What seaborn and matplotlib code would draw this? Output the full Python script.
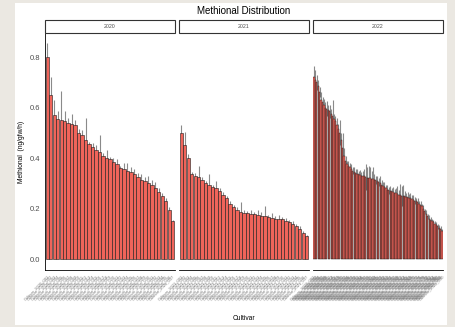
import numpy as np
import pandas as pd
import matplotlib
matplotlib.use("Agg")
import matplotlib.pyplot as plt
from matplotlib.patches import Rectangle
import seaborn as sns

# mean methional per cultivar, sorted high -> low, one list per year
years = ["2020", "2021", "2022"]

vals_2020 = [0.80, 0.65, 0.57, 0.555, 0.55, 0.545, 0.54, 0.535, 0.53, 0.50,
             0.49, 0.47, 0.455, 0.445, 0.43, 0.425, 0.41, 0.40, 0.395, 0.385,
             0.375, 0.36, 0.355, 0.35, 0.345, 0.335, 0.325, 0.315, 0.31, 0.30,
             0.295, 0.28, 0.265, 0.25, 0.23, 0.195, 0.15]
err_2020 = [0.055, 0.07, 0.06, 0.03, 0.115, 0.04, 0.02, 0.04, 0.02, 0.015,
            0.02, 0.09, 0.01, 0.015, 0.02, 0.065, 0.01, 0.03, 0.01, 0.015,
            0.02, 0.01, 0.025, 0.03, 0.02, 0.02, 0.015, 0.02, 0.015, 0.03,
            0.02, 0.025, 0.015, 0.01, 0.01, 0.01, 0.005]

vals_2021 = [0.50, 0.45, 0.40, 0.335, 0.33, 0.325, 0.315, 0.30, 0.295, 0.285,
             0.28, 0.27, 0.255, 0.24, 0.22, 0.205, 0.195, 0.185, 0.183, 0.182,
             0.18, 0.178, 0.175, 0.172, 0.17, 0.165, 0.162, 0.16, 0.158, 0.157,
             0.152, 0.145, 0.14, 0.13, 0.12, 0.105, 0.092]
err_2021 = [0.03, 0.055, 0.015, 0.01, 0.01, 0.045, 0.01, 0.01, 0.04, 0.01,
            0.03, 0.01, 0.01, 0.01, 0.01, 0.01, 0.01, 0.04, 0.01, 0.01,
            0.015, 0.01, 0.02, 0.015, 0.04, 0.01, 0.02, 0.01, 0.015, 0.01,
            0.01, 0.01, 0.01, 0.01, 0.01, 0.005, 0.005]

vals_2022 = [0.72, 0.71, 0.70, 0.685, 0.66, 0.63, 0.62, 0.61, 0.60, 0.595,
             0.59, 0.585, 0.575, 0.565, 0.555, 0.545, 0.53, 0.515, 0.50, 0.47,
             0.44, 0.41, 0.39, 0.375, 0.37, 0.365, 0.355, 0.35, 0.345, 0.34,
             0.338, 0.335, 0.333, 0.33, 0.33, 0.328, 0.325, 0.323, 0.32, 0.32,
             0.318, 0.316, 0.315, 0.313, 0.31, 0.305, 0.30, 0.295, 0.29, 0.285,
             0.28, 0.275, 0.272, 0.27, 0.268, 0.265, 0.262, 0.26, 0.258, 0.255,
             0.253, 0.25, 0.25, 0.248, 0.247, 0.245, 0.243, 0.24, 0.238, 0.235,
             0.232, 0.23, 0.225, 0.22, 0.215, 0.21, 0.20, 0.19, 0.18, 0.17,
             0.16, 0.155, 0.15, 0.145, 0.14, 0.135, 0.13, 0.125, 0.12, 0.11]
err_2022 = [0.045, 0.04, 0.03, 0.025, 0.02, 0.03, 0.02, 0.025, 0.02, 0.03,
            0.02, 0.025, 0.02, 0.065, 0.02, 0.02, 0.03, 0.02, 0.05, 0.03,
            0.06, 0.03, 0.02, 0.015, 0.02, 0.015, 0.02, 0.015, 0.02, 0.015,
            0.02, 0.015, 0.02, 0.015, 0.02, 0.03, 0.05, 0.04, 0.05, 0.045,
            0.03, 0.05, 0.02, 0.015, 0.02, 0.015, 0.03, 0.02, 0.015, 0.02,
            0.015, 0.02, 0.015, 0.02, 0.015, 0.02, 0.015, 0.02, 0.03, 0.02,
            0.045, 0.04, 0.045, 0.02, 0.015, 0.02, 0.015, 0.02, 0.015, 0.02,
            0.015, 0.01, 0.015, 0.01, 0.015, 0.01, 0.015, 0.01, 0.015, 0.01,
            0.015, 0.01, 0.01, 0.01, 0.01, 0.01, 0.01, 0.01, 0.01, 0.01]

# cultivar names are unreadable in the source, placeholders
cultivars_2020 = ["Cultivar_2020_%03d" % (k + 1) for k in range(len(vals_2020))]
cultivars_2021 = ["Cultivar_2021_%03d" % (k + 1) for k in range(len(vals_2021))]
cultivars_2022 = ["Cultivar_2022_%03d" % (k + 1) for k in range(len(vals_2022))]

fill = "#F0645A"
W, H = 456, 327

sns.set_style("white")
plt.rcParams["font.family"] = ["Liberation Sans", "DejaVu Sans"]

fig = plt.figure(figsize=(W / 100, H / 100), dpi=100, facecolor="#ebe8e2")
fig.patches.append(Rectangle((15 / W, 1 - 325 / H), 432 / W, 322 / H,
                             transform=fig.transFigure, facecolor="white",
                             edgecolor="none", zorder=-10))

panels = [(years[0], cultivars_2020, vals_2020, err_2020, 45, 0.4),
          (years[1], cultivars_2021, vals_2021, err_2021, 179, 0.4),
          (years[2], cultivars_2022, vals_2022, err_2022, 313, 0.3)]

ax_bottom, ax_top = 270, 33
for i, (yr, cv, v, e, x0, lw) in enumerate(panels):
    ax = fig.add_axes([x0 / W, 1 - ax_bottom / H, 130 / W, (ax_bottom - ax_top) / H])
    ax.set_facecolor("none")
    df = pd.DataFrame({"Cultivar": cv, "Methional": v})
    n = len(v)
    ax.errorbar(np.arange(n), v, yerr=e, fmt="none", ecolor="#8a8a8a",
                elinewidth=0.8, capsize=0, zorder=1)
    sns.barplot(data=df, x="Cultivar", y="Methional", color=fill, saturation=1,
                edgecolor="#1a1a1a", linewidth=lw, width=0.9, errorbar=None,
                ax=ax, zorder=2)
    ax.set_xlim(-0.6, n - 0.4)
    ax.set_ylim(-0.043, 0.895)
    ax.set_xlabel("")
    ax.set_ylabel("")
    for s in ["top", "right"]:
        ax.spines[s].set_visible(False)
    ax.spines["bottom"].set_color("black")
    ax.spines["bottom"].set_linewidth(0.6)
    ax.tick_params(axis="x", length=2, width=0.4, color="#333333", pad=1,
                   labelsize=3, labelcolor="#777777")
    plt.setp(ax.get_xticklabels(), rotation=45, ha="right", rotation_mode="anchor")
    if i == 0:
        ax.spines["left"].set_color("black")
        ax.spines["left"].set_linewidth(0.6)
        ax.set_yticks([0.0, 0.2, 0.4, 0.6, 0.8])
        ax.set_yticklabels(["0.0", "0.2", "0.4", "0.6", "0.8"])
        ax.tick_params(axis="y", length=2, width=0.4, color="black", pad=1.5,
                       labelsize=5.5, labelcolor="#4d4d4d")
    else:
        ax.spines["left"].set_visible(False)
        ax.set_yticks([])
    # facet strip
    fig.patches.append(Rectangle((x0 / W, 1 - 33 / H), 130 / W, 13 / H,
                                 transform=fig.transFigure, facecolor="white",
                                 edgecolor="#333333", linewidth=0.8))
    fig.text((x0 + 65) / W, 1 - 26.5 / H, yr, ha="center", va="center",
             fontsize=3.8, color="#4d4d4d")

fig.text(244 / W, 1 - 11 / H, "Methional Distribution", ha="center", va="center",
         fontsize=7, color="black")
fig.text(22 / W, 1 - 152 / H, "Methional  (ng/gfw/h)", ha="center", va="center",
         rotation=90, fontsize=4.8, color="black")
fig.text(244 / W, 1 - 318 / H, "Cultivar", ha="center", va="center",
         fontsize=4.8, color="black")

fig.savefig("out.png", dpi=100, facecolor=fig.get_facecolor())
